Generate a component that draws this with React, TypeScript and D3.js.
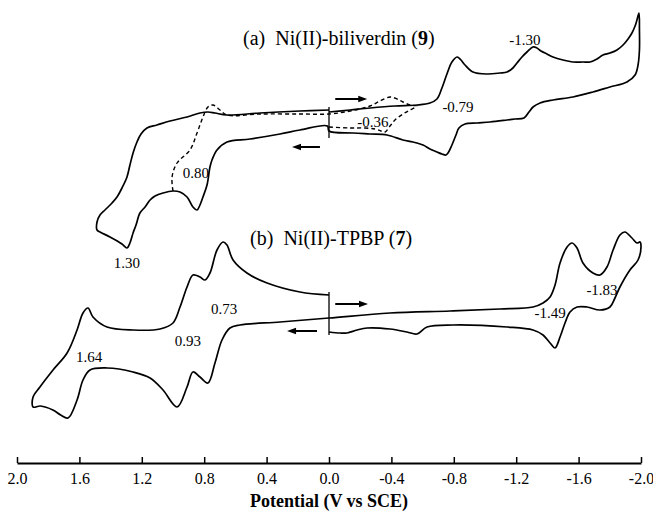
import React, { useEffect, useRef } from "react";
import * as d3 from "d3";

type Pt = [number, number];

// x: potential (V vs SCE), y: current (arbitrary units, traces offset)
const potentialTicks = [2.0, 1.6, 1.2, 0.8, 0.4, 0.0, -0.4, -0.8, -1.2, -1.6, -2.0];

// (a) Ni(II)-biliverdin, full scan (solid)
const biliverdinScan: Pt[] = [
  [0, 28.8], [-0.135, 29.0], [-0.263, 29.2], [-0.423, 29.4], [-0.564, 29.5], [-0.647, 29.7],
  [-0.692, 30.1], [-0.724, 31.2], [-0.756, 32.6], [-0.788, 33.8], [-0.821, 34.3], [-0.846, 34.0],
  [-0.872, 33.5], [-0.923, 32.8], [-1.013, 32.6], [-1.096, 32.7], [-1.141, 32.8], [-1.179, 33.2],
  [-1.205, 33.7], [-1.237, 34.3], [-1.269, 34.8], [-1.308, 35.3], [-1.333, 35.2], [-1.359, 34.9],
  [-1.397, 34.6], [-1.436, 34.3], [-1.5, 34.0], [-1.564, 33.8], [-1.628, 33.8], [-1.673, 33.8],
  [-1.718, 34.1], [-1.756, 34.5], [-1.801, 34.7], [-1.846, 35.0], [-1.885, 35.5], [-1.917, 36.1],
  [-1.942, 36.7], [-1.962, 37.4], [-1.974, 38.0], [-1.987, 38.7],
  [-1.99, 37.0], [-1.99, 35.0], [-1.981, 33.5], [-1.962, 32.5], [-1.91, 31.8], [-1.801, 31.3],
  [-1.692, 30.8], [-1.564, 30.3], [-1.436, 30.0], [-1.353, 29.7], [-1.308, 29.3], [-1.282, 28.8],
  [-1.25, 28.2], [-1.192, 28.1], [-1.141, 28.0], [-1.032, 27.8], [-0.949, 27.7], [-0.872, 27.6],
  [-0.833, 27.2], [-0.814, 26.5], [-0.788, 25.5], [-0.763, 24.7], [-0.75, 24.5], [-0.724, 24.6],
  [-0.692, 24.8], [-0.647, 25.1], [-0.603, 25.5], [-0.538, 25.8], [-0.474, 26.0], [-0.372, 26.5],
  [-0.263, 26.6], [-0.154, 26.7], [0, 26.9],
  [0.01, 27.4], [0.186, 27.0], [0.314, 26.6], [0.506, 26.1], [0.654, 25.8], [0.718, 25.0],
  [0.75, 24.0], [0.763, 23.3], [0.782, 21.5], [0.808, 20.3], [0.827, 19.5], [0.846, 19.0],
  [0.872, 19.3], [0.91, 20.3], [0.955, 20.8], [1.0, 20.9], [1.064, 20.7], [1.115, 20.4],
  [1.147, 20.0], [1.179, 19.3], [1.212, 18.7], [1.237, 17.5], [1.256, 16.7], [1.276, 15.7],
  [1.295, 15.2], [1.327, 15.6], [1.404, 16.3], [1.468, 16.8], [1.487, 17.0],
  [1.487, 17.8], [1.468, 18.5], [1.436, 19.0], [1.391, 19.7], [1.359, 20.3], [1.327, 21.2],
  [1.295, 22.3], [1.276, 23.5], [1.256, 24.7], [1.231, 25.8], [1.205, 26.6], [1.167, 27.2],
  [1.103, 27.5], [1.019, 27.9], [0.91, 28.3], [0.827, 28.7], [0.776, 28.8], [0.731, 28.7],
  [0.654, 28.5], [0.442, 28.7], [0.186, 28.9], [0, 29.0],
];

// (a) narrower scan window (dashed)
const biliverdinShortScan: Pt[] = [
  [1.0, 20.9], [1.006, 22.3], [0.974, 23.7], [0.891, 25.0], [0.846, 26.7], [0.808, 28.3],
  [0.776, 29.3], [0.744, 29.5], [0.699, 29.0], [0.654, 28.5], [0.442, 28.6], [0.186, 28.6],
  [0, 28.6], [-0.135, 28.9], [-0.263, 29.4], [-0.327, 29.9], [-0.391, 30.3], [-0.436, 30.1],
  [-0.474, 29.8], [-0.519, 29.5], [-0.564, 29.4], [-0.519, 29.0], [-0.474, 28.6], [-0.423, 28.0],
  [-0.391, 27.4], [-0.359, 26.8], [-0.333, 26.9], [-0.295, 27.1], [-0.231, 27.2], [-0.135, 27.2],
  [0, 27.3],
];
const biliverdinStart: Pt[] = [[0, 29.3], [0, 26.2]];

// (b) Ni(II)-TPBP
const tpbpScan: Pt[] = [
  [0, 10.5], [0.186, 10.8], [0.397, 11.7], [0.526, 12.7], [0.615, 14.0], [0.654, 15.5],
  [0.679, 15.8], [0.718, 15.0], [0.763, 12.7], [0.795, 12.0], [0.827, 12.3], [0.872, 12.5],
  [0.91, 11.3], [0.955, 9.3], [1.0, 7.7], [1.083, 7.1], [1.256, 7.0], [1.423, 7.3],
  [1.513, 8.3], [1.545, 9.2], [1.577, 8.7], [1.615, 7.0], [1.679, 4.7], [1.769, 3.0],
  [1.853, 1.3], [1.897, 0.3], [1.897, -0.7],
  [1.85, -0.6], [1.77, -1.0], [1.72, -1.5], [1.673, -1.8], [1.615, 0.0], [1.577, 2.0], [1.532, 3.0],
  [1.423, 3.2], [1.256, 2.8], [1.147, 2.2], [1.064, 1.0], [0.974, -0.7], [0.91, 1.3],
  [0.872, 2.8], [0.827, 2.3], [0.776, 1.7], [0.731, 3.7], [0.686, 6.0], [0.635, 7.2],
  [0.571, 7.5], [0.314, 7.8], [0, 8.2],
  [-0.391, 8.7], [-0.776, 8.9], [-1.096, 9.1], [-1.308, 9.3], [-1.372, 9.7], [-1.417, 10.3],
  [-1.449, 11.5], [-1.481, 13.7], [-1.526, 15.3], [-1.558, 15.7], [-1.59, 15.2], [-1.628, 13.7],
  [-1.692, 12.7], [-1.737, 12.5], [-1.782, 13.3], [-1.821, 15.0], [-1.865, 16.5], [-1.897, 16.8],
  [-1.942, 16.2], [-1.974, 15.7], [-1.994, 15.8],
  [-2.0, 15.3], [-1.981, 14.0], [-1.929, 13.0], [-1.865, 11.3], [-1.833, 10.2], [-1.801, 9.3],
  [-1.737, 9.0], [-1.654, 9.3], [-1.59, 9.3], [-1.545, 8.8], [-1.513, 7.7], [-1.481, 6.3],
  [-1.449, 5.2], [-1.417, 5.7], [-1.372, 6.5], [-1.308, 7.0], [-1.141, 7.3], [-0.795, 7.5],
  [-0.628, 7.3], [-0.564, 6.6], [-0.5, 6.8], [-0.391, 7.1], [-0.244, 7.2], [-0.18, 7.0],
  [-0.115, 6.7], [-0.071, 6.7], [0, 6.8],
];
const tpbpStart: Pt[] = [[0, 10.8], [0, 6.5]];

// peak potential labels: text, potential, current
const peakLabels: [string, number, number][] = [
  ["-1.30", -1.256, 35.5],
  ["-0.79", -0.827, 28.8],
  ["-0.36", -0.282, 27.3],
  ["0.80", 0.853, 22.2],
  ["1.30", 1.295, 13.2],
  ["0.73", 0.673, 8.6],
  ["0.93", 0.904, 5.4],
  ["1.64", 1.538, 3.8],
  ["-1.49", -1.417, 8.2],
  ["-1.83", -1.75, 10.5],
];

// scan direction arrows: from potential, to potential, current
const scanArrows: [number, number, number][] = [
  [-0.04, -0.245, 30.1],
  [0.058, 0.237, 25.3],
  [-0.04, -0.25, 9.6],
  [0.077, 0.269, 6.9],
];

// trace titles: label, compound number, potential, current
const traceTitles: [string, string, number, number][] = [
  ["(a)  Ni(II)-biliverdin ", "9", 0.551, 35.5],
  ["(b)  Ni(II)-TPBP ", "7", 0.506, 15.5],
];

const serif = "'Liberation Serif', 'Times New Roman', serif";

export default function App() {
  const ref = useRef<SVGSVGElement>(null);

  useEffect(() => {
    const width = 653;
    const height = 514;
    const svg = d3.select(ref.current);
    svg.selectAll("*").remove();

    const x = d3.scaleLinear().domain([2, -2]).range([17, 641]);
    const y = d3.scaleLinear().domain([-6, 40]).range([460, 0]);

    const line = d3
      .line<Pt>()
      .x((d) => x(d[0]))
      .y((d) => y(d[1]))
      .curve(d3.curveCatmullRom.alpha(0.5));

    const straight = d3
      .line<Pt>()
      .x((d) => x(d[0]))
      .y((d) => y(d[1]));

    const g = svg.append("g");

    g.append("path")
      .attr("d", line(biliverdinScan))
      .attr("fill", "none")
      .attr("stroke", "#000")
      .attr("stroke-width", 1.7)
      .attr("stroke-linejoin", "round");

    g.append("path")
      .attr("d", line(biliverdinShortScan))
      .attr("fill", "none")
      .attr("stroke", "#000")
      .attr("stroke-width", 1.4)
      .attr("stroke-dasharray", "4,3");

    g.append("path")
      .attr("d", line(tpbpScan))
      .attr("fill", "none")
      .attr("stroke", "#000")
      .attr("stroke-width", 1.7)
      .attr("stroke-linejoin", "round");

    [biliverdinStart, tpbpStart].forEach((s) => {
      g.append("path")
        .attr("d", straight(s))
        .attr("stroke", "#000")
        .attr("stroke-width", 1.3);
    });

    // arrows
    scanArrows.forEach(([v1, v2, i]) => {
      const x1 = x(v1);
      const x2 = x(v2);
      const yy = y(i);
      const dir = x2 > x1 ? 1 : -1;
      g.append("line")
        .attr("x1", x1)
        .attr("x2", x2 - dir * 6)
        .attr("y1", yy)
        .attr("y2", yy)
        .attr("stroke", "#000")
        .attr("stroke-width", 2);
      g.append("path")
        .attr(
          "d",
          `M${x2},${yy}L${x2 - dir * 9},${yy - 3.2}L${x2 - dir * 9},${yy + 3.2}Z`
        )
        .attr("fill", "#000");
    });

    // peak labels
    g.selectAll(".peak")
      .data(peakLabels)
      .enter()
      .append("text")
      .attr("x", (d) => x(d[1]))
      .attr("y", (d) => y(d[2]))
      .attr("text-anchor", "middle")
      .style("font-family", serif)
      .style("font-size", "15px")
      .text((d) => d[0]);

    // titles
    traceTitles.forEach(([label, num, v, i]) => {
      const t = g
        .append("text")
        .attr("x", x(v))
        .attr("y", y(i))
        .style("font-family", serif)
        .style("font-size", "20px")
        .style("white-space", "pre");
      t.append("tspan").text(label + "(");
      t.append("tspan").style("font-weight", "bold").text(num);
      t.append("tspan").text(")");
    });

    // axis
    const axis = d3
      .axisBottom(x)
      .tickValues(potentialTicks)
      .tickSizeInner(-6)
      .tickSizeOuter(0)
      .tickPadding(10)
      .tickFormat((d) => (+d).toFixed(1));

    const ax = svg
      .append("g")
      .attr("transform", "translate(0,463)")
      .call(axis);
    ax.select(".domain").attr("stroke-width", 1.8);
    ax.selectAll(".tick line").attr("stroke-width", 1.5);
    ax.selectAll(".tick text")
      .style("font-family", serif)
      .style("font-size", "16px")
      .attr("fill", "#000");

    svg
      .append("text")
      .attr("x", (x(2) + x(-2)) / 2)
      .attr("y", 507)
      .attr("text-anchor", "middle")
      .style("font-family", serif)
      .style("font-weight", "bold")
      .style("font-size", "18px")
      .text("Potential (V vs SCE)");

    svg.attr("width", width).attr("height", height);
  }, []);

  return (
    <svg
      ref={ref}
      width={653}
      height={514}
      style={{ position: "absolute", left: 0, top: 0, background: "#fff" }}
    />
  );
}
